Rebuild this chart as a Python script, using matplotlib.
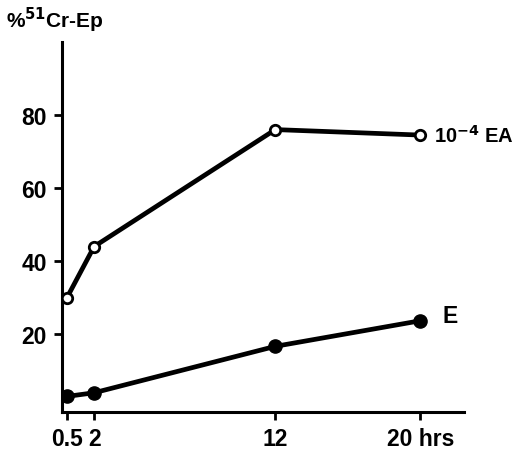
import matplotlib
matplotlib.use("Agg")
import matplotlib.pyplot as plt

hours = [0.5, 2, 12, 20]
ea_values = [30, 44, 76, 74.5]
e_values = [3, 4, 16.7, 23.7]
x_ticks = [0.5, 2, 12, 20]
x_tick_labels = ["0.5", "2", "12", "20 hrs"]
y_ticks = [20, 40, 60, 80]

plt.rcParams['font.family'] = ['Liberation Sans', 'DejaVu Sans']
plt.rcParams['font.weight'] = 'bold'

fig = plt.figure(figsize=(5.17, 4.56), dpi=100)
ax = fig.add_axes([0.12, 0.094, 0.777, 0.812])

ax.plot(hours, ea_values, color='black', lw=3.4, marker='o', ms=7.5,
        mfc='white', mec='black', mew=2, zorder=3)
ax.plot(hours, e_values, color='black', lw=3.4, marker='o', ms=9.5,
        mfc='black', mec='black', zorder=3)

ax.set_xlim(0.23, 22.4)
ax.set_ylim(-1.3, 100)
ax.spines['top'].set_visible(False)
ax.spines['right'].set_visible(False)
ax.spines['left'].set_linewidth(2.2)
ax.spines['bottom'].set_linewidth(2.2)

ax.set_xticks(x_ticks)
ax.set_xticklabels(x_tick_labels)
ax.set_yticks(y_ticks)
ax.tick_params(axis='both', direction='out', length=6, width=2,
               labelsize=16.5, pad=5)

ax.text(20.75, ea_values[-1], "10$^{-4}$ EA", fontsize=14.5, fontweight='bold',
        va='center', ha='left', clip_on=False)
ax.text(21.2, e_values[-1] + 1.5, "E", fontsize=16.5, fontweight='bold',
        va='center', ha='left', clip_on=False)
fig.text(0.012, 0.955, "%$^{51}$Cr-Ep", fontsize=15, fontweight='bold',
         va='center', ha='left')

plt.savefig("out.png", dpi=100)
plt.close()
